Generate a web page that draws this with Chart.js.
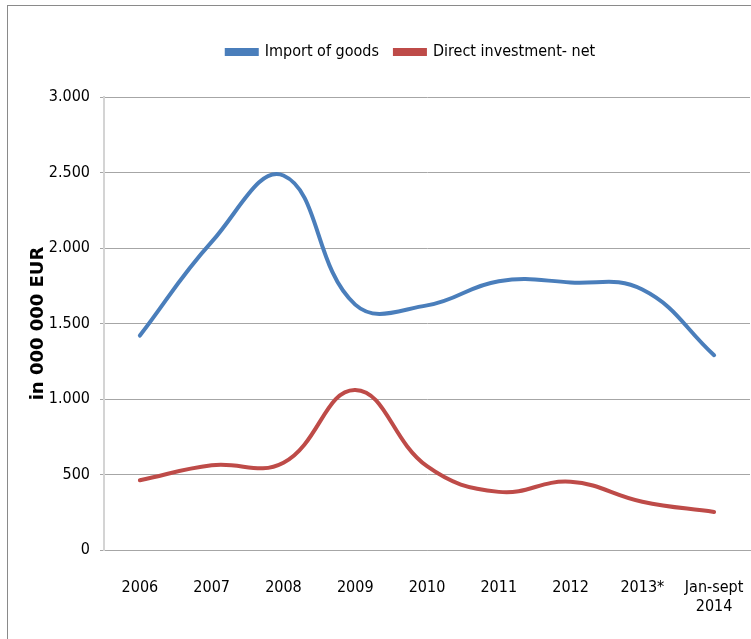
<!DOCTYPE html>
<html>
<head>
<meta charset="utf-8">
<script src="https://cdn.jsdelivr.net/npm/chart.js@4.4.1/dist/chart.umd.min.js"></script>
<style>
  html, body { margin: 0; padding: 0; background: #fff; overflow: hidden; }
  #wrap { position: relative; width: 751px; height: 639px; }
  #frame { position: absolute; left: 7px; top: 5px; width: 800px; height: 700px;
           border: 1px solid #8a8a8a; pointer-events: none; }
</style>
</head>
<body>
<div id="wrap">
  <canvas id="grafico" width="751" height="639"></canvas>
  <div id="frame"></div>
</div>
<script>
    // datos (millones de EUR)
    const categorias = ['2006', '2007', '2008', '2009', '2010', '2011', '2012', '2013*', ['Jan-sept', '2014']];
    const importGoods = [1420, 2040, 2480, 1625, 1620, 1780, 1772, 1725, 1290];
    const directInvestment = [462, 561, 578, 1060, 555, 385, 452, 320, 252];
    const ticksY = [0, 500, 1000, 1500, 2000, 2500, 3000];

    const fuente = "'DejaVu Sans Condensed', 'Liberation Sans Narrow', sans-serif";

    // formato 3.000
    function formatoMiles(v) {
        return String(v).replace(/\B(?=(\d{3})+(?!\d))/g, '.');
    }

    // espacio extra bajo la leyenda y leyenda algo desplazada a la derecha
    const ajusteLeyenda = {
        id: 'ajusteLeyenda',
        beforeInit(chart) {
            const fitOriginal = chart.legend.fit;
            chart.legend.fit = function () {
                fitOriginal.call(this);
                this.height += 27;
            };
        },
        afterLayout(chart) {
            chart.legend.left += 36;
            chart.legend.right += 36;
        }
    };

    const ctx = document.getElementById('grafico').getContext('2d');
    const myChart = new Chart(ctx, {
        type: 'line',
        data: {
            labels: categorias,
            datasets: [
                {
                    label: 'Import of goods',
                    data: importGoods,
                    borderColor: '#4a7ebb',
                    backgroundColor: '#4a7ebb',
                    borderWidth: 4,
                    tension: 0.42,
                    fill: false,
                    pointRadius: 0,
                    borderCapStyle: 'round'
                },
                {
                    label: 'Direct investment- net',
                    data: directInvestment,
                    borderColor: '#be4b48',
                    backgroundColor: '#be4b48',
                    borderWidth: 4,
                    tension: 0.42,
                    fill: false,
                    pointRadius: 0,
                    borderCapStyle: 'round'
                }
            ]
        },
        options: {
            responsive: false,
            animation: false,
            layout: { padding: { left: 0, right: 1, top: 28, bottom: 0 } },
            plugins: {
                legend: {
                    display: true,
                    position: 'top',
                    labels: {
                        color: '#000',
                        font: { family: fuente, size: 16 },
                        boxWidth: 30,
                        boxHeight: 4,
                        padding: 16
                    }
                },
                tooltip: { enabled: false }
            },
            scales: {
                x: {
                    offset: true,
                    grid: { display: false },
                    border: { display: true, color: '#a6a6a6', width: 1 },
                    ticks: {
                        color: '#000',
                        font: { family: fuente, size: 16 },
                        padding: 20,
                        maxRotation: 0,
                        autoSkip: false
                    },
                    afterFit: function (s) {
                        s.height = 89;
                        s.paddingLeft = 0;
                        s.paddingRight = 0;
                    }
                },
                y: {
                    min: 0,
                    max: 3000,
                    afterBuildTicks: function (s) { s.ticks = ticksY.map(v => ({ value: v })); },
                    grid: { color: '#a6a6a6', lineWidth: 1, tickLength: 4 },
                    border: { display: true, color: '#d4d4d4', width: 2 },
                    ticks: {
                        color: '#000',
                        font: { family: fuente, size: 16 },
                        padding: 10,
                        callback: v => formatoMiles(v)
                    },
                    title: {
                        display: true,
                        text: 'in 000 000 EUR',
                        color: '#000',
                        font: { family: "'DejaVu Sans', sans-serif", size: 18, weight: 'bold' },
                        padding: { top: 28, bottom: 0 }
                    },
                    afterFit: function (s) { s.width = 104; }
                }
            }
        },
        plugins: [ajusteLeyenda]
    });
</script>
</body>
</html>
